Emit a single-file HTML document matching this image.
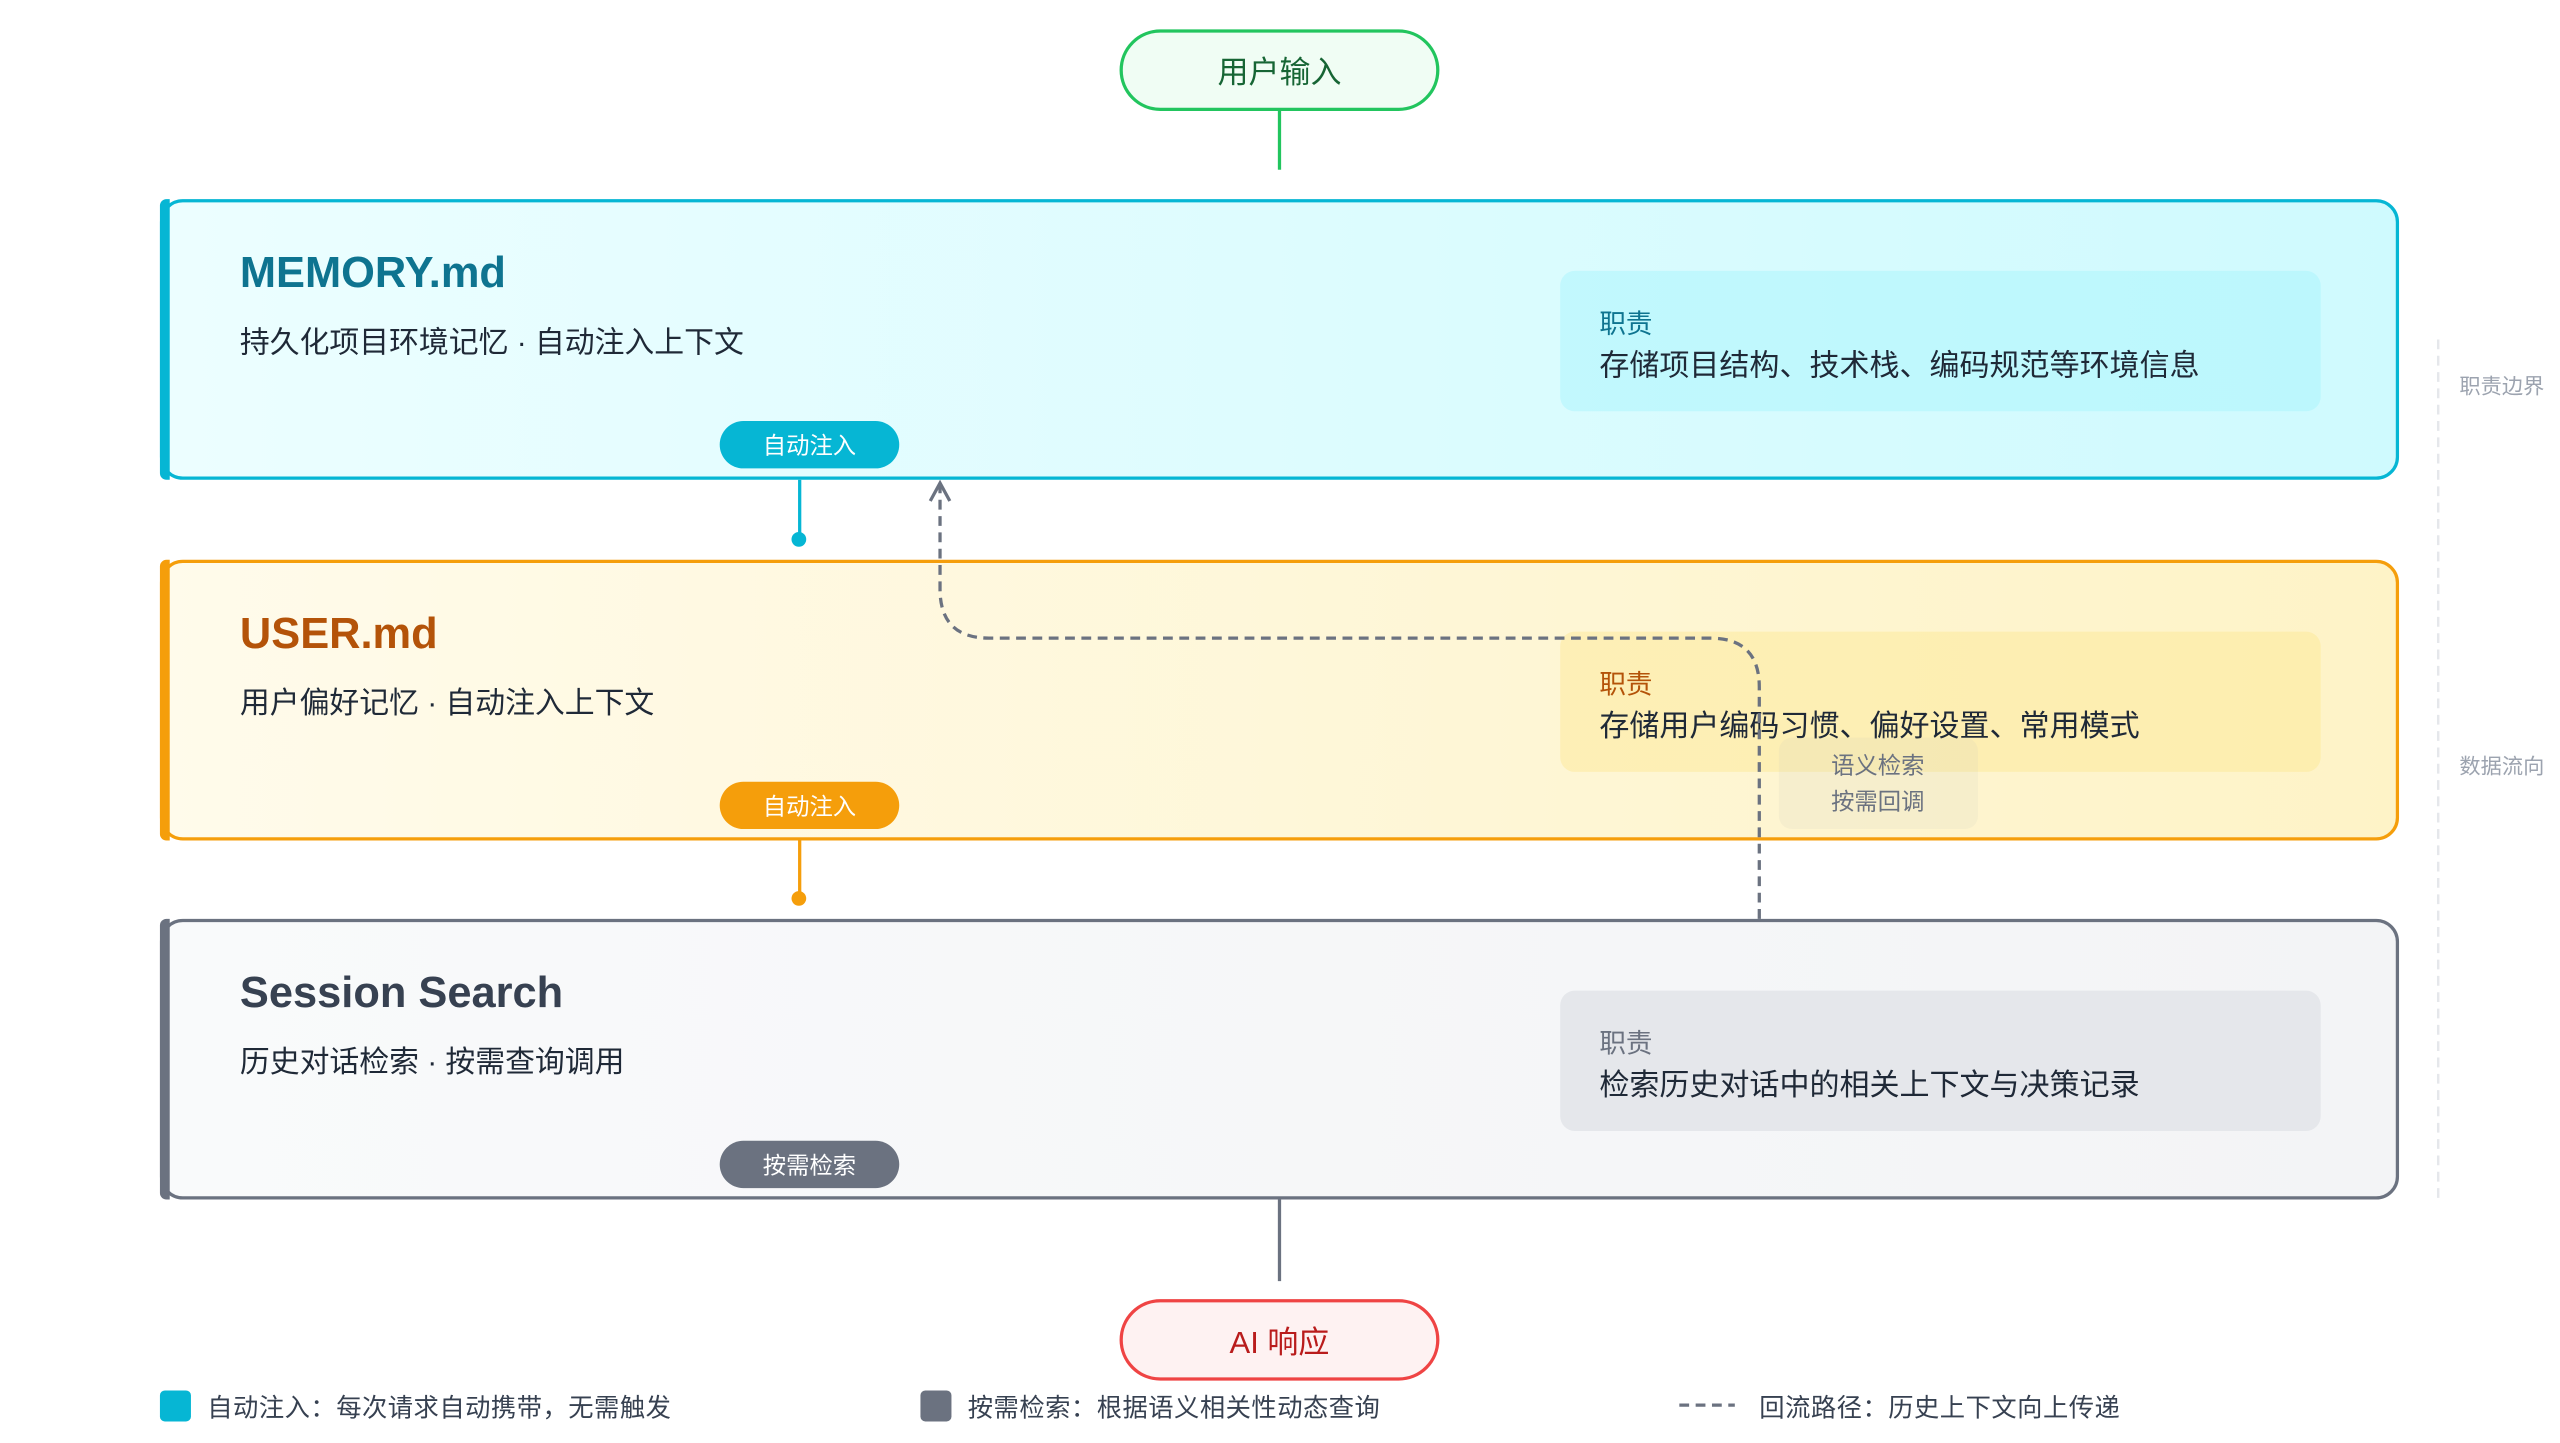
<!DOCTYPE html>
<html><head><meta charset="utf-8"><style>
html,body{margin:0;padding:0;background:#fff;width:2560px;height:1440px;overflow:hidden}
#s{position:absolute;left:0;top:0;width:1570px;height:884px;transform:scale(1.632);transform-origin:0 0;font-family:"Liberation Sans","Noto Sans CJK SC",sans-serif}
.a{position:absolute}
.pill{position:absolute;border-radius:26px;border:2px solid;box-sizing:border-box;display:flex;align-items:center;justify-content:center;font-size:19px}
.box{position:absolute;left:98px;width:1372px;height:172px;box-sizing:border-box;border:2px solid;border-radius:14px}
.bar{position:absolute;left:-2px;top:-2px;bottom:-2px;width:6px;border-radius:4px 0 0 4px}
.t{position:absolute;left:47px;top:28px;font-size:26.6px;font-weight:bold}
.st{position:absolute;left:47px;top:72px;font-size:18.3px;color:#1f2937}
.pn{position:absolute;left:856px;top:42px;width:466px;height:86px;border-radius:9px}
.pn .h{position:absolute;left:24px;top:19px;font-size:16.3px}
.pn .b{position:absolute;left:24px;top:44px;font-size:18.4px;color:#1f2937}
.bd{position:absolute;left:341px;width:110px;height:29px;border-radius:15px;color:#fff;font-size:14.3px;display:flex;align-items:center;justify-content:center}
.lg{position:absolute;top:851px;font-size:15.5px;color:#374151;letter-spacing:0.3px}
</style></head><body><div id="s">
<div class="pill" style="left:686px;top:18px;width:196px;height:50px;border-color:#22c55e;background:#f0fdf4;color:#166534">用户输入</div>
<div class="a" style="left:783px;top:68px;width:2px;height:36px;background:#22c55e"></div>

<div class="box" style="top:122px;border-color:#06b6d4;background:linear-gradient(90deg,#ecfeff,#cffafe)">
<div class="bar" style="background:#06b6d4"></div>
<div class="t" style="color:#0e7490">MEMORY.md</div>
<div class="st">持久化项目环境记忆 · 自动注入上下文</div>
<div class="pn" style="top:42px;background:rgba(165,243,252,0.45)"><div class="h" style="color:#0e7490">职责</div><div class="b">存储项目结构、技术栈、编码规范等环境信息</div></div>
<div class="bd" style="top:134px;background:#06b6d4">自动注入</div>
</div>
<div class="a" style="left:489px;top:294px;width:2px;height:36px;background:#06b6d4"></div>
<div class="a" style="left:485px;top:326px;width:9px;height:9px;border-radius:50%;background:#06b6d4"></div>

<div class="box" style="top:343px;border-color:#f59e0b;background:linear-gradient(90deg,#fffbeb,#fef3c7)">
<div class="bar" style="background:#f59e0b"></div>
<div class="t" style="color:#b45309">USER.md</div>
<div class="st">用户偏好记忆 · 自动注入上下文</div>
<div class="pn" style="top:42px;background:rgba(253,230,138,0.4)"><div class="h" style="color:#b45309">职责</div><div class="b">存储用户编码习惯、偏好设置、常用模式</div></div>
<div class="bd" style="top:134px;background:#f59e0b">自动注入</div>
</div>
<div class="a" style="left:489px;top:514px;width:2px;height:36px;background:#f59e0b"></div>
<div class="a" style="left:485px;top:546px;width:9px;height:9px;border-radius:50%;background:#f59e0b"></div>

<div class="box" style="top:563px;border-color:#6b7280;background:linear-gradient(90deg,#f9fafb,#f3f4f6)">
<div class="bar" style="background:#6b7280"></div>
<div class="t" style="color:#374151">Session Search</div>
<div class="st">历史对话检索 · 按需查询调用</div>
<div class="pn" style="top:42px;background:#e5e7eb"><div class="h" style="color:#6b7280">职责</div><div class="b">检索历史对话中的相关上下文与决策记录</div></div>
<div class="bd" style="top:134px;background:#6b7280">按需检索</div>
</div>
<div class="a" style="left:783px;top:735px;width:2px;height:50px;background:#6b7280"></div>
<div class="pill" style="left:686px;top:796px;width:196px;height:50px;border-color:#ef4444;background:#fef2f2;color:#b91c1c">AI 响应</div>

<div class="a" style="left:1090px;top:452px;width:122px;height:56px;border-radius:8px;background:rgba(200,200,190,0.15)"></div>
<div class="a" style="left:1122px;top:459px;font-size:14.3px;color:#6b7280;line-height:22px">语义检索<br>按需回调</div>

<svg class="a" style="left:0;top:0" width="1570" height="884">
<path d="M1078 563 V421 Q1078 391 1048 391 H606 Q576 391 576 361 V297" fill="none" stroke="#6b7280" stroke-width="2" stroke-dasharray="6 4"/>
<path d="M570 307 L576 296 L582 307" fill="none" stroke="#6b7280" stroke-width="2"/>
<line x1="1494" y1="208" x2="1494" y2="735" stroke="#e5e7eb" stroke-width="1.5" stroke-dasharray="6 4"/>
<line x1="1029" y1="861" x2="1063" y2="861" stroke="#6b7280" stroke-width="2" stroke-dasharray="6 4"/>
</svg>
<div class="a" style="left:1507px;top:226px;font-size:13px;color:#9ca3af">职责边界</div>
<div class="a" style="left:1507px;top:459px;font-size:13px;color:#9ca3af">数据流向</div>

<div class="a" style="left:98px;top:852px;width:19px;height:19px;border-radius:3px;background:#06b6d4"></div>
<div class="lg" style="left:127px">自动注入：每次请求自动携带，无需触发</div>
<div class="a" style="left:564px;top:852px;width:19px;height:19px;border-radius:3px;background:#6b7280"></div>
<div class="lg" style="left:593px">按需检索：根据语义相关性动态查询</div>
<div class="lg" style="left:1078px">回流路径：历史上下文向上传递</div>
</div></body></html>
